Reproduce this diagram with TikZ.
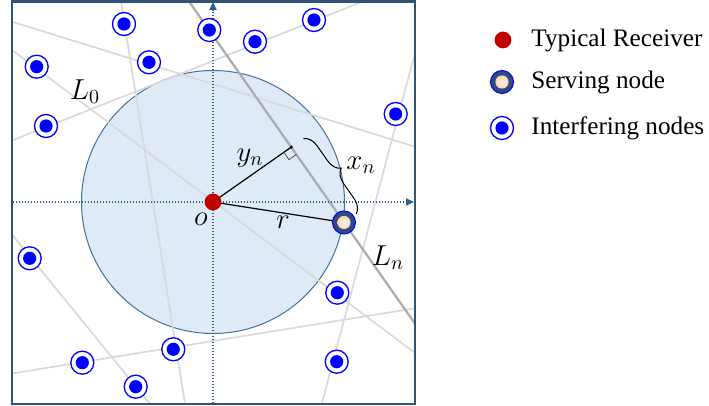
\documentclass[tikz,border=0pt]{standalone}
\usepackage{fontspec}
\setmainfont{Liberation Serif}
\usepackage{xcolor}
\usetikzlibrary{arrows.meta,decorations.pathreplacing,calc}

\definecolor{framec}{HTML}{2E5478}
\definecolor{diskc}{HTML}{DEEAF6}
\definecolor{diskb}{HTML}{41719C}
\definecolor{axisc}{HTML}{2F5F8F}
\definecolor{linec}{HTML}{D9D9D9}
\definecolor{lnc}{HTML}{ABABAB}
\definecolor{rxc}{HTML}{C00000}
\definecolor{srvc}{HTML}{2F4B7C}
\definecolor{peach}{HTML}{F4B183}

\begin{document}
\begin{tikzpicture}[
            x=0.5pt, y=-0.5pt,
            font=\rmfamily\fontsize{12.6}{15}\selectfont,
            rx/.style={circle, fill=rxc, inner sep=0pt, minimum size=8.4pt},
            srv/.style={circle, draw=blue, line width=0.5pt, fill=srvc, inner sep=0pt, minimum size=11.5pt,
                path picture={\shade[inner color=white!85!peach, outer color=peach!85] (path picture bounding box.center) circle (3.3pt);}},
            intf/.style={circle, draw=blue, line width=0.65pt, fill=white, inner sep=0pt, minimum size=11.5pt,
                path picture={\fill[blue] (path picture bounding box.center) circle (3.3pt);}},
            pline/.style={draw=linec, line width=0.85pt},
            lnline/.style={draw=lnc, line width=1.1pt},
            axis/.style={draw=axisc, line width=0.6pt, dash pattern=on 0.6pt off 0.9pt, -{Triangle[length=4pt,width=3.6pt]}},
            mlabel/.style={font=\fontsize{14.5}{17}\selectfont, inner sep=0pt},
            legtext/.style={anchor=west, inner sep=0pt}
        ]
        \useasboundingbox (0,0) rectangle (709,406);

        % Key points
        \coordinate (o) at (213,202);
        \coordinate (S) at (344,222.5);
        \coordinate (lnA) at (188,0);
        \coordinate (lnB) at (415,323.7);
        \coordinate (F) at ($(lnA)!(o)!(lnB)$);

        % Disk
        \draw[fill=diskc, draw=diskb, line width=0.5pt] (o) circle [radius=131.5];

        % Lines
        \begin{scope}
            \clip (12,1) rectangle (415,404);
            \draw[pline] (12,50) -- (415,353);
            \draw[pline] (120.7,0) -- (185,404);
            \draw[pline] (12,21.7) -- (415,146.7);
            \draw[pline] (12,140.5) -- (366.7,0);
            \draw[pline] (415,53) -- (321.7,404);
            \draw[pline] (12,234.6) -- (150,404);
            \draw[pline] (12,373.5) -- (415,308.3);
            \draw[lnline] (lnA) -- (lnB);
        \end{scope}

        % Axes
        \draw[axis] (13,202) -- (414,202);
        \draw[axis] (213,403) -- (213,2);

        % Distances
        \draw[line width=0.6pt] (o) -- (F);
        \draw[line width=0.6pt] (o) -- (S);
        \fill (F) circle (0.9pt);
        \coordinate (m1) at ($(F)!4.5pt!(o)$);
        \coordinate (m2) at ($(F)!4.5pt!(S)$);
        \draw[black!70, line width=0.4pt] (m1) -- ($(m1)+(m2)-(F)$) -- (m2);
        \draw[decorate, decoration={brace, amplitude=7pt, raise=7.5pt}, line width=0.5pt] (F) -- (S);

        % Nodes
        \foreach \p [count=\i] in {(124,24),(209.3,30),(255,41.7),(314,20),(36.7,66.7),(149,62.3),(46,126),
                (395.7,114),(29.7,258.3),(337.3,292.7),(173.3,349.3),(82.3,362.7),(135.7,386.7),(336.7,361.7)}
            \node[intf] (i\i) at \p {};
        \node[rx] (rx) at (o) {};
        \node[srv] (srv) at (S) {};

        % Labels
        \node[mlabel] (lo) at (201,219) {$o$};
        \node[mlabel] (lr) at (283,222) {$r$};
        \node[mlabel] (ly) at (250,158) {$y_n$};
        \node[mlabel] (lx) at (361,165) {$x_n$};
        \node[mlabel] (lL0) at (85,92) {$L_0$};
        \node[mlabel] (lLn) at (388,258) {$L_n$};

        % Frame
        \draw[framec, line width=1.3pt] (12,1.3) rectangle (415,404);

        % Legend
        \node[rx] (legrx) at (503,40) {};
        \node[legtext] at (531,40) {Typical Receiver};
        \node[srv] (legsrv) at (502,82) {};
        \node[legtext] at (531,82) {Serving node};
        \node[intf] (legintf) at (502,128) {};
        \node[legtext] at (531,128) {Interfering nodes};

    \end{tikzpicture}
\end{document}
